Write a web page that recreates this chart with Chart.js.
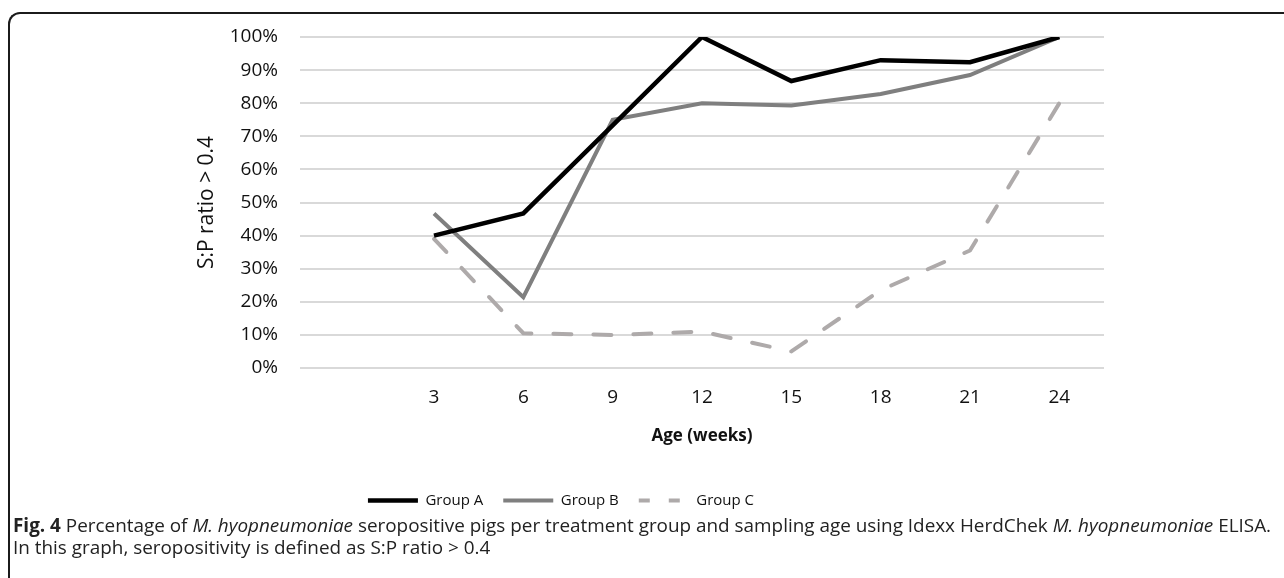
<!DOCTYPE html>
<html>
<head>
<meta charset="utf-8">
<script src="https://cdn.jsdelivr.net/npm/chart.js@4"></script>
<style>
  body { margin: 0; background: #fff; width: 1284px; height: 578px; overflow: hidden; position: relative; }
  #frame { position: absolute; left: 8px; top: 12px; width: 1300px; height: 600px;
           border-top: 2px solid #1b1b1b; border-left: 2px solid #1b1b1b; border-top-left-radius: 12px; }
  #wrap { position: absolute; left: 10px; top: 14px; width: 1104px; height: 504px; }
  #caption { position: absolute; left: 13px; top: 514px; width: 1270px; white-space: nowrap;
             font-family: "Open Sans", sans-serif; font-size: 18.9px; line-height: 22px; color: #222; }
</style>
</head>
<body>
<div id="frame"></div>
<div id="wrap"><canvas id="seroCanvas"></canvas></div>
<div id="caption"><b>Fig. 4</b> Percentage of <i>M. hyopneumoniae</i> seropositive pigs per treatment group and sampling age using Idexx HerdChek <i>M. hyopneumoniae</i> ELISA.<br>In this graph, seropositivity is defined as S:P ratio &gt; 0.4</div>
<script>
var weeks = [3, 6, 9, 12, 15, 18, 21, 24];
var groupA = [40, 46.7, 73.3, 100, 86.7, 93, 92.4, 100];
var groupB = [46.7, 21.4, 75, 80, 79.3, 82.8, 88.5, 100];
var groupC = [39, 10.5, 10, 11, 5, 23.5, 35.5, 80];
var yTicks = [0, 10, 20, 30, 40, 50, 60, 70, 80, 90, 100];

function pts(vals){
    return weeks.map(function(w, i){ return {x: w, y: vals[i]}; });
}

var tickFont = {family: "Open Sans", size: 19};

var chart = new Chart(document.getElementById("seroCanvas"), {
    type: "line",
    data: {
        datasets: [
        {
            label: "Group A",
            data: pts(groupA),
            borderColor: "#000000",
            backgroundColor: "#000000",
            borderWidth: 4.5
        },
        {
            label: "Group B",
            data: pts(groupB),
            borderColor: "#7f7f7f",
            backgroundColor: "#7f7f7f",
            borderWidth: 4
        },
        {
            label: "Group C",
            data: pts(groupC),
            borderColor: "#aeaaaa",
            backgroundColor: "#aeaaaa",
            borderWidth: 4,
            borderDash: [18, 22],
            borderCapStyle: "round"
        }
        ]
    },
    options: {
        responsive: true,
        maintainAspectRatio: false,
        animation: false,
        elements: { point: { radius: 0 }, line: { tension: 0 } },
        layout: { padding: { left: 8, right: 10, top: 23, bottom: 0 } },
        scales: {
            x: {
                type: "linear",
                min: -1.5,
                max: 25.5,
                afterBuildTicks: function(scale){
                    scale.ticks = weeks.map(function(w){ return {value: w}; });
                },
                afterFit: function(scale){ scale.height = 105; },
                grid: { display: false, drawTicks: false },
                border: { display: false },
                ticks: { font: tickFont, color: "#111", padding: 18 },
                title: {
                    display: true,
                    text: "Age (weeks)",
                    color: "#111",
                    font: {family: "Open Sans", size: 17, weight: "bold"},
                    padding: {top: 0, bottom: 27}
                }
            },
            y: {
                min: 0,
                max: 100,
                afterBuildTicks: function(scale){
                    scale.ticks = yTicks.map(function(v){ return {value: v}; });
                },
                afterFit: function(scale){ scale.width = 282; },
                grid: { color: "#d9d9d9", lineWidth: 2, drawTicks: true, tickLength: 22, tickColor: "rgba(0,0,0,0)" },
                border: { display: false },
                ticks: {
                    font: tickFont,
                    color: "#111",
                    padding: 0,
                    callback: function(v){ return v + "%"; }
                },
                title: {
                    display: true,
                    text: "S:P ratio > 0.4",
                    color: "#111",
                    font: {family: "Open Sans", size: 21},
                    padding: {top: 176, bottom: 0}
                }
            }
        },
        plugins: {
            legend: {
                display: true,
                position: "bottom",
                labels: {
                    usePointStyle: true,
                    pointStyle: "line",
                    pointStyleWidth: 50,
                    padding: 20,
                    color: "#111",
                    font: {family: "Open Sans", size: 15},
                    generateLabels: function(c){
                        var items = Chart.defaults.plugins.legend.labels.generateLabels(c);
                        items.forEach(function(it, i){
                            if (i === 2) { it.lineDash = [11, 19]; }
                        });
                        return items;
                    }
                }
            },
            tooltip: { enabled: false }
        }
    }
});
</script>
</body>
</html>
